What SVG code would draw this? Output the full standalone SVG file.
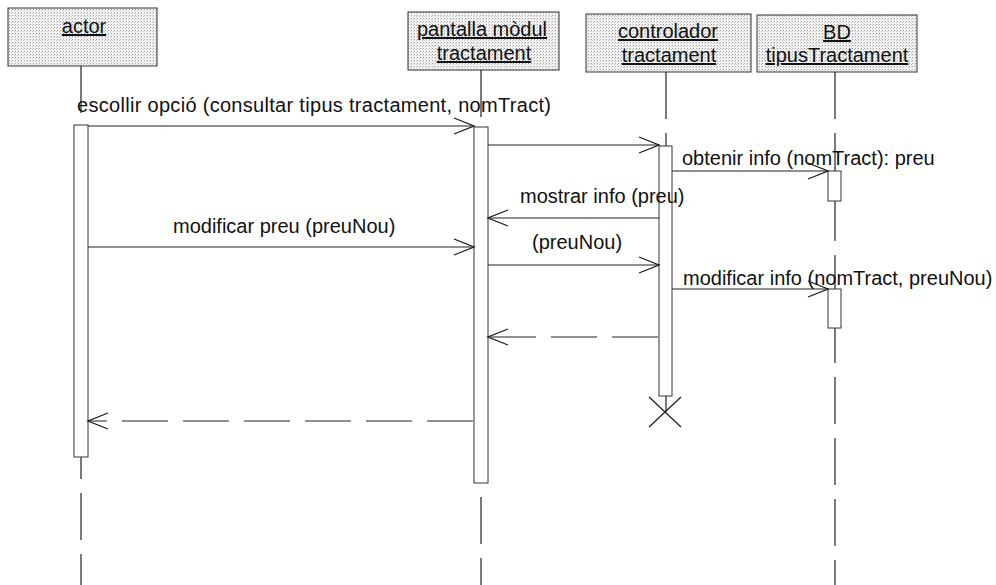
<svg xmlns="http://www.w3.org/2000/svg" width="996" height="585" viewBox="0 0 996 585">
<defs>
<pattern id="stip" width="3" height="3" patternUnits="userSpaceOnUse">
<rect width="3" height="3" fill="#f3f3f3"/>
<rect x="0" y="0" width="1" height="1" fill="#a0a0a0"/>
<rect x="2" y="1" width="1" height="1" fill="#c8c8c8"/>
</pattern>
<marker id="open" viewBox="-22 -10 24 20" markerWidth="24" markerHeight="20" refX="0" refY="0" orient="auto" markerUnits="userSpaceOnUse">
<path d="M-20,-8 L0,0 L-20,8" fill="none" stroke="#1a1a1a" stroke-width="1.3"/>
</marker>
</defs>
<style>
.box{fill:url(#stip);stroke:#333;stroke-width:1}
.title{font-family:"Liberation Sans",Arial,sans-serif;font-size:20px;fill:#111;text-anchor:middle;text-decoration:underline}
.life{stroke:#222;stroke-width:1.2;stroke-dasharray:47 14;fill:none}
.bar{fill:#fff;stroke:#333;stroke-width:1}
.msg{stroke:#222;stroke-width:1.1;fill:none;marker-end:url(#open)}
.ret{stroke:#222;stroke-width:1.1;fill:none;stroke-dasharray:46 15;marker-end:url(#open)}
.lbl{font-family:"Liberation Sans",Arial,sans-serif;font-size:20px;fill:#111}
</style>
<rect width="996" height="585" fill="#fff"/>

<g id="actor">
<rect class="box" x="8" y="8" width="149" height="58"/>
<text class="title" x="84" y="33">actor</text>
<line class="life" x1="81" y1="66" x2="81" y2="585"/>
<rect class="bar" x="74" y="125" width="14" height="332"/>
</g>

<g id="pantalla">
<rect class="box" x="408" y="12" width="151" height="58"/>
<text class="title" x="482" y="36">pantalla mòdul</text>
<text class="title" x="484" y="60">tractament</text>
<line class="life" x1="481" y1="70" x2="481" y2="585"/>
<rect class="bar" x="474" y="127" width="14" height="356"/>
</g>

<g id="controlador">
<rect class="box" x="586" y="14" width="165" height="58"/>
<text class="title" x="668" y="38">controlador</text>
<text class="title" x="669" y="62">tractament</text>
<line class="life" x1="666" y1="72" x2="666" y2="412"/>
<rect class="bar" x="659" y="146" width="13" height="250"/>
<path d="M649,397 L681,427 M681,397 L649,427" stroke="#222" stroke-width="1.3" fill="none"/>
</g>

<g id="bd">
<rect class="box" x="757" y="15" width="160" height="57"/>
<text class="title" x="837" y="39">BD</text>
<text class="title" x="837" y="62">tipusTractament</text>
<line class="life" x1="835" y1="72" x2="835" y2="585"/>
<rect class="bar" x="828" y="171" width="13" height="30"/>
<rect class="bar" x="828" y="289" width="13" height="39"/>
</g>

<g id="connectors">
<line class="msg" x1="88" y1="126" x2="474" y2="126"/>
<text class="lbl" x="77" y="112" textLength="474" lengthAdjust="spacing">escollir opció (consultar tipus tractament, nomTract)</text>
<line class="msg" x1="488" y1="145" x2="659" y2="145"/>
<line class="msg" x1="672" y1="171" x2="828" y2="171"/>
<text class="lbl" x="682" y="165">obtenir info (nomTract): preu</text>
<line class="msg" x1="659" y1="218" x2="488" y2="218"/>
<text class="lbl" x="520" y="203">mostrar info (preu)</text>
<line class="msg" x1="88" y1="247" x2="474" y2="247"/>
<text class="lbl" x="173" y="233">modificar preu (preuNou)</text>
<line class="msg" x1="488" y1="265" x2="659" y2="265"/>
<text class="lbl" x="532" y="249">(preuNou)</text>
<line class="msg" x1="672" y1="289" x2="828" y2="289"/>
<text class="lbl" x="683" y="285">modificar info (nomTract, preuNou)</text>
<line class="ret" x1="658" y1="337" x2="488" y2="337"/>
<line class="ret" x1="473" y1="421" x2="88" y2="421"/>
</g>
</svg>
